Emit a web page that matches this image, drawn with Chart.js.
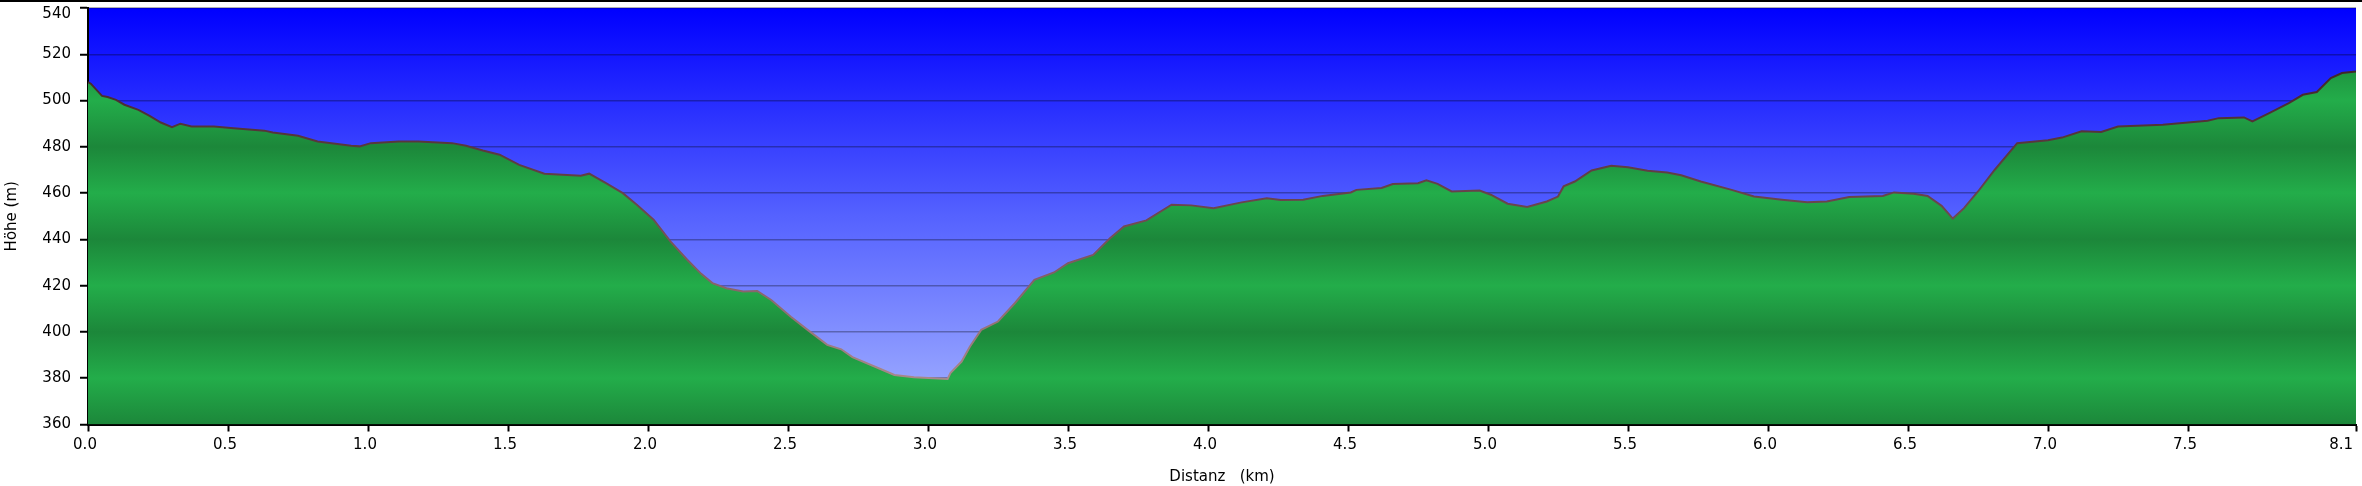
<!DOCTYPE html>
<html>
<head>
<meta charset="utf-8">
<title>Höhenprofil</title>
<script src="https://cdn.jsdelivr.net/npm/chart.js@4.4.1/dist/chart.umd.min.js"></script>
<style>
  html, body { margin: 0; padding: 0; background: #fff; }
  #wrap { width: 2362px; height: 486px; position: relative; }
</style>
</head>
<body>
<div id="wrap"><canvas id="profileChart"></canvas></div>
<script>
// DATA - distance along the track (km) and the elevation (m)
const distKm = [
  0.00, 0.01, 0.05, 0.07, 0.10, 0.13, 0.18, 0.22, 0.26, 0.30,
  0.33, 0.37, 0.45, 0.52, 0.63, 0.66, 0.75, 0.82, 0.94, 0.97,
  1.01, 1.11, 1.18, 1.30, 1.35, 1.41, 1.47, 1.54, 1.63, 1.76,
  1.79, 1.85, 1.91, 1.96, 2.02, 2.08, 2.14, 2.19, 2.23, 2.28,
  2.34, 2.39, 2.44, 2.51, 2.57, 2.64, 2.69, 2.73, 2.83, 2.88,
  2.95, 3.07, 3.08, 3.12, 3.15, 3.19, 3.25, 3.31, 3.38, 3.45,
  3.50, 3.59, 3.65, 3.70, 3.78, 3.87, 3.94, 4.02, 4.12, 4.21,
  4.26, 4.34, 4.41, 4.51, 4.53, 4.62, 4.66, 4.75, 4.78, 4.82,
  4.87, 4.97, 5.01, 5.07, 5.14, 5.21, 5.25, 5.27, 5.31, 5.37,
  5.44, 5.50, 5.57, 5.64, 5.69, 5.76, 5.87, 5.95, 6.05, 6.14,
  6.21, 6.29, 6.41, 6.45, 6.52, 6.57, 6.62, 6.66, 6.70, 6.75,
  6.81, 6.89, 7.00, 7.05, 7.12, 7.19, 7.25, 7.41, 7.57, 7.61,
  7.70, 7.73, 7.79, 7.86, 7.91, 7.96, 8.01, 8.05, 8.10
];
const elevM = [
  508.0, 507.3, 502.0, 501.5, 500.3, 498.2, 496.0, 493.4, 490.5, 488.5,
  490.0, 488.8, 488.8, 488.0, 487.0, 486.2, 484.8, 482.3, 480.5, 480.2,
  481.6, 482.3, 482.3, 481.6, 480.5, 478.4, 476.6, 472.2, 468.4, 467.5,
  468.4, 464.3, 460.0, 455.0, 448.5, 439.1, 431.2, 425.1, 421.1, 418.9,
  417.5, 417.7, 413.8, 406.6, 400.9, 394.4, 392.5, 389.1, 384.0, 381.4,
  380.4, 379.7, 382.2, 387.2, 393.7, 400.9, 404.5, 412.4, 422.5, 425.7,
  429.7, 433.3, 440.5, 445.6, 448.2, 455.0, 454.7, 453.5, 456.0, 457.8,
  457.0, 457.1, 458.8, 460.3, 461.4, 462.2, 463.9, 464.3, 465.5, 464.0,
  460.7, 461.1, 459.3, 455.4, 454.0, 456.4, 458.5, 462.9, 465.0, 469.8,
  471.8, 471.2, 469.7, 468.9, 467.7, 465.0, 461.4, 458.5, 457.1, 456.0,
  456.4, 458.3, 458.8, 460.3, 459.7, 458.8, 454.5, 449.0, 453.5, 460.7,
  470.1, 481.6, 482.8, 484.0, 486.7, 486.4, 488.8, 489.5, 491.3, 492.4,
  492.7, 491.0, 494.6, 498.9, 502.5, 503.7, 509.7, 511.9, 512.6
];

// TICKS
const xTicks = [0, 0.5, 1, 1.5, 2, 2.5, 3, 3.5, 4, 4.5, 5, 5.5, 6, 6.5, 7, 7.5, 8.1];
const xTickLabels = ["0.0", "0.5", "1.0", "1.5", "2.0", "2.5", "3.0", "3.5", "4.0", "4.5",
  "5.0", "5.5", "6.0", "6.5", "7.0", "7.5", "8.1"];
const yTicks = [360, 380, 400, 420, 440, 460, 480, 500, 520, 540];

const points = distKm.map((d, i) => ({ x: d, y: elevM[i] }));

const fontFamily = "'DejaVu Sans', Verdana, sans-serif";

// sky behind the profile
const skyPlugin = {
  id: "sky",
  beforeDraw(chart) {
    const { ctx, chartArea } = chart;
    if (!chartArea) return;
    const g = ctx.createLinearGradient(0, chartArea.top, 0, chartArea.bottom);
    g.addColorStop(0, "#0000ff");
    g.addColorStop(0.5, "#5562ff");
    g.addColorStop(1, "#a6b4ff");
    ctx.save();
    ctx.fillStyle = g;
    ctx.fillRect(chartArea.left, chartArea.top, chartArea.right - chartArea.left, chartArea.bottom - chartArea.top);
    ctx.restore();
  },
  afterDraw(chart) {
    // thin black line along the top of the picture
    const { ctx, width } = chart;
    ctx.save();
    ctx.strokeStyle = "#000";
    ctx.lineWidth = 2;
    ctx.beginPath();
    ctx.moveTo(0, 1);
    ctx.lineTo(width, 1);
    ctx.stroke();
    ctx.restore();
  }
};

// green bands, darker every 40 m
function groundFill(context) {
  const chart = context.chart;
  const { chartArea, scales } = chart;
  if (!chartArea) return "#22aa48";
  const h = chartArea.bottom - chartArea.top;
  const g = chart.ctx.createLinearGradient(0, chartArea.top, 0, chartArea.bottom);
  for (let i = yTicks.length - 1; i >= 0; i--) {
    const v = yTicks[i];
    let pos = (scales.y.getPixelForValue(v) - chartArea.top) / h;
    pos = Math.min(1, Math.max(0, pos));
    const dark = (v - 360) % 40 === 0;
    g.addColorStop(pos, dark ? "#1c873a" : "#23ad4a");
  }
  return g;
}

function lineStroke(context) {
  const chart = context.chart;
  const { chartArea } = chart;
  if (!chartArea) return "#4a3030";
  const g = chart.ctx.createLinearGradient(0, chartArea.top, 0, chartArea.bottom);
  g.addColorStop(0, "#301818");
  g.addColorStop(0.5, "#6e4850");
  g.addColorStop(1, "#b89a9a");
  return g;
}

const config = {
  type: "line",
  data: {
    datasets: [{
      label: "Höhe",
      data: points,
      borderColor: lineStroke,
      borderWidth: 2,
      backgroundColor: groundFill,
      fill: "start",
      pointRadius: 0,
      tension: 0
    }]
  },
  plugins: [skyPlugin],
  options: {
    responsive: false,
    animation: false,
    layout: { padding: { top: 8, right: 6, bottom: 0, left: 0 } },
    plugins: {
      legend: { display: false },
      tooltip: { enabled: false }
    },
    scales: {
      x: {
        type: "linear",
        min: 0,
        max: 8.1,
        z: 1,
        afterBuildTicks: (scale) => {
          scale.ticks = xTicks.map((v) => ({ value: v }));
        },
        afterFit: (scale) => {
          scale.height = 61.5;
          scale.paddingLeft = 0;
          scale.paddingRight = 0;
        },
        border: { display: true, color: "#000", width: 2 },
        grid: {
          drawOnChartArea: false,
          drawTicks: true,
          tickLength: 7,
          tickWidth: 2,
          tickColor: "#000"
        },
        ticks: {
          autoSkip: false,
          maxRotation: 0,
          padding: 5,
          labelOffset: -3,
          color: "#000",
          font: { family: fontFamily, size: 15 },
          // the last label sits left of its tick, trailing spaces push it over
          callback: (value, index) => index === xTickLabels.length - 1 ? xTickLabels[index] + "     " : xTickLabels[index]
        },
        title: {
          display: true,
          text: "Distanz   (km)",
          color: "#000",
          padding: { top: 3, bottom: 0 },
          font: { family: fontFamily, size: 15 }
        }
      },
      y: {
        min: 360,
        max: 540,
        z: 1,
        afterBuildTicks: (scale) => {
          scale.ticks = yTicks.map((v) => ({ value: v }));
        },
        afterFit: (scale) => {
          scale.width = 88;
          scale.paddingTop = 0;
          scale.paddingBottom = 0;
        },
        border: { display: true, color: "#000", width: 2 },
        grid: {
          color: "rgba(0, 0, 0, 0.3)",
          lineWidth: 1.5,
          drawTicks: true,
          tickLength: 8,
          tickWidth: 2,
          tickColor: "#000"
        },
        ticks: {
          padding: 9,
          color: "#000",
          // top label is pushed down a bit so it stays inside the picture
          font: (ctx) => ctx.index === yTicks.length - 1
            ? { family: fontFamily, size: 15, lineHeight: 0.75 }
            : { family: fontFamily, size: 15 },
          callback: (value, index) => index === yTicks.length - 1 ? ["", String(value)] : String(value)
        },
        title: {
          display: true,
          text: "Höhe (m)",
          color: "#000",
          padding: { top: 3, bottom: 0 },
          font: { family: fontFamily, size: 15 }
        }
      }
    }
  }
};

const canvas = document.getElementById("profileChart");
canvas.width = 2362;
canvas.height = 486;
const profileChart = new Chart(canvas, config);
</script>
</body>
</html>
